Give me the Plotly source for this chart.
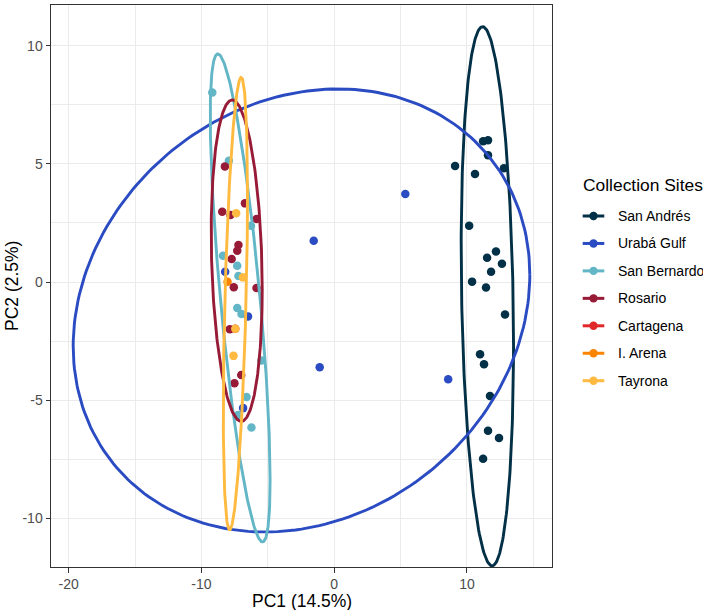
import numpy as np
import plotly.graph_objects as go

# ---------------- data ----------------
sites = ["San Andrés", "Urabá Gulf", "San Bernardo", "Rosario", "Cartagena", "I. Arena", "Tayrona"]
colors = ["#023047", "#2A4BC2", "#62B6C6", "#971B37", "#E0282B", "#FB8500", "#FFBA3F"]

san_andres_pc1 = [11.22, 11.59, 11.59, 9.11, 10.61, 12.79, 10.17, 12.19, 11.52, 12.64,
                  11.82, 10.39, 11.44, 12.87, 10.99, 11.29, 11.74, 11.59, 12.42, 11.22]
san_andres_pc2 = [5.96, 6.00, 5.37, 4.91, 4.57, 4.82, 2.38, 1.29, 1.03, 0.78,
                  0.44, 0.02, -0.23, -1.37, -3.05, -3.47, -4.82, -6.29, -6.59, -7.47]

uraba_pc1 = [-8.21, -6.49, -6.86, -1.54, 5.36, -1.09, 8.59]
uraba_pc2 = [0.44, -1.45, -5.33, 1.75, 3.73, -3.60, -4.11]

san_bernardo_pc1 = [-9.18, -7.93, -6.27, -8.37, -7.30, -7.21, -7.30, -6.98, -5.48, -6.60, -7.24, -6.23]
san_bernardo_pc2 = [8.02, 5.13, 2.38, 1.11, 0.69, 0.26, -1.10, -1.35, -3.32, -4.86, -5.62, -6.15]

rosario_pc1 = [-8.23, -8.43, -7.81, -6.72, -5.85, -7.21, -7.30, -7.72, -7.56, -5.85, -7.86, -7.00, -7.51]
rosario_pc2 = [4.89, 2.98, 2.84, 3.33, 2.67, 1.57, 1.33, 0.98, -0.22, -0.25, -1.99, -3.93, -4.28]

cartagena_pc1 = [-7.45]
cartagena_pc2 = [-1.97]

i_arena_pc1 = [-8.03]
i_arena_pc2 = [0.01]

tayrona_pc1 = [-7.38, -6.87, -7.45, -7.58]
tayrona_pc2 = [2.91, 0.20, -1.97, -3.12]

pc1 = [san_andres_pc1, uraba_pc1, san_bernardo_pc1, rosario_pc1, cartagena_pc1, i_arena_pc1, tayrona_pc1]
pc2 = [san_andres_pc2, uraba_pc2, san_bernardo_pc2, rosario_pc2, cartagena_pc2, i_arena_pc2, tayrona_pc2]

# 95% ellipses: centre and shape matrix (sxx, syy, sxy)
ell_cx = [11.54, -2.46, -7.08, -7.34, None, None, -7.44]
ell_cy = [-0.60, -1.20, -0.67, 0.905, None, None, -0.91]
ell_sxx = [3.89, 295.8, 5.08, 3.69, None, None, 0.83]
ell_syy = [130.0, 87.8, 106.5, 46.2, None, None, 91.6]
ell_sxy = [-4.07, 25.9, -17.36, -2.3, None, None, 4.17]

x_ticks = [-20, -10, 0, 10]
y_ticks = [-10, -5, 0, 5, 10]
x_range = [-21.33, 16.41]
y_range = [-12.05, 11.72]

x_title = "PC1 (14.5%)"
y_title = "PC2 (2.5%)"
legend_title = "Collection Sites"

FONT = "Liberation Sans, Arial, Helvetica, sans-serif"
W, H = 703, 610
ML, MR, MT, MB = 51, 151, 5, 43
PW, PH = W - ML - MR, H - MT - MB


def px_to_paper(px, py):
    return (px - ML) / PW, (H - MB - py) / PH


fig = go.Figure()

# points (drawing order)
draw_order = [0, 2, 1, 4, 5, 3, 6]
for i in draw_order:
    fig.add_trace(go.Scatter(
        x=pc1[i], y=pc2[i], mode="markers", name=sites[i],
        marker=dict(color=colors[i], size=8.5, line=dict(width=0)),
        legendgroup=sites[i], showlegend=False))

# ellipses
t = np.linspace(0, 2 * np.pi, 241)
circle = np.vstack([np.cos(t), np.sin(t)])
for i in range(len(sites)):
    if ell_cx[i] is None:
        continue
    S = np.array([[ell_sxx[i], ell_sxy[i]], [ell_sxy[i], ell_syy[i]]])
    L = np.linalg.cholesky(S)
    pts = L @ circle
    fig.add_trace(go.Scatter(
        x=ell_cx[i] + pts[0], y=ell_cy[i] + pts[1], mode="lines", name=sites[i],
        line=dict(color=colors[i], width=2.9),
        legendgroup=sites[i], showlegend=False, hoverinfo="skip"))

axis_common = dict(
    showline=True, mirror=True, linecolor="#333333", linewidth=1,
    ticks="outside", ticklen=4.5, tickwidth=1, tickcolor="#333333",
    showgrid=True, gridcolor="#EBEBEB", gridwidth=1.2, zeroline=False,
    automargin=False,
    tickfont=dict(family=FONT, size=14, color="#4D4D4D"),
)

fig.update_xaxes(
    range=x_range, tickmode="array", tickvals=x_ticks,
    ticktext=[str(v) for v in x_ticks],
    minor=dict(tickmode="array", tickvals=[-15, -5, 5, 15], showgrid=True,
               gridcolor="#EBEBEB", gridwidth=0.6),
    **axis_common)
fig.update_yaxes(
    range=y_range, tickmode="array", tickvals=y_ticks,
    ticktext=[str(v) for v in y_ticks],
    minor=dict(tickmode="array", tickvals=[-7.5, -2.5, 2.5, 7.5], showgrid=True,
               gridcolor="#EBEBEB", gridwidth=0.6),
    **axis_common)

annotations = []
shapes = []
# axis titles
annotations.append(dict(text=x_title, xref="paper", yref="paper", x=0.5, y=0,
                        yshift=-34, xanchor="center", yanchor="middle", showarrow=False,
                        font=dict(family=FONT, size=17.5, color="black")))
annotations.append(dict(text=y_title, xref="paper", yref="paper", x=0, y=0.5,
                        xshift=-39, xanchor="center", yanchor="middle", showarrow=False,
                        textangle=-90, font=dict(family=FONT, size=17.5, color="black")))

# legend (drawn as shapes + text)
tx, ty = px_to_paper(580.5, 185)
annotations.append(dict(text=legend_title, xref="paper", yref="paper", x=tx, y=ty,
                        xanchor="left", yanchor="middle", showarrow=False,
                        font=dict(family=FONT, size=17.4, color="black")))
for k, s in enumerate(sites):
    cy = 216 + k * 27.45
    lx0, ly = px_to_paper(582.7, cy)
    lx1, _ = px_to_paper(604.3, cy)
    mx, _ = px_to_paper(593.5, cy)
    shapes.append(dict(type="line", xref="paper", yref="paper", x0=lx0, x1=lx1, y0=ly, y1=ly,
                       line=dict(color=colors[k], width=3)))
    shapes.append(dict(type="circle", xref="paper", yref="paper",
                       xsizemode="pixel", ysizemode="pixel", xanchor=mx, yanchor=ly,
                       x0=-4.2, x1=4.2, y0=-4.2, y1=4.2,
                       fillcolor=colors[k], line=dict(width=0)))
    ax, _ = px_to_paper(616, cy)
    annotations.append(dict(text=s, xref="paper", yref="paper", x=ax, y=ly,
                            xanchor="left", yanchor="middle", showarrow=False,
                            font=dict(family=FONT, size=14, color="black")))

fig.update_layout(
    width=W, height=H,
    margin=dict(l=ML, r=MR, t=MT, b=MB),
    plot_bgcolor="white", paper_bgcolor="white",
    font=dict(family=FONT),
    showlegend=False,
    annotations=annotations, shapes=shapes,
)

fig.write_html("out.html",
               config={"displayModeBar": False},
               post_script="document.body.style.margin='0px';document.body.style.padding='0px';")
